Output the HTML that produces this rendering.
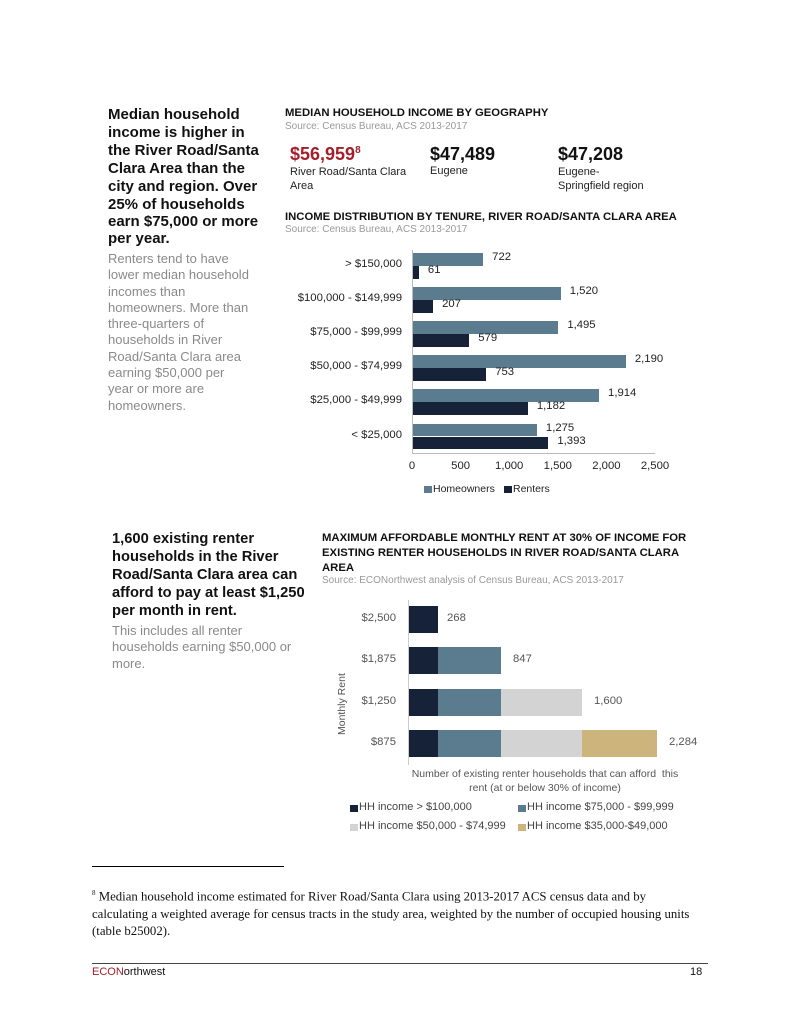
<!DOCTYPE html>
<html><head><meta charset="utf-8"><style>
body{margin:0;width:800px;height:1035px;background:#fff;position:relative;overflow:hidden;font-family:"Liberation Sans",sans-serif;color:#111;}
.a{position:absolute;white-space:nowrap;}
.h{font-weight:bold;font-size:15px;color:#111;}
.g{font-size:13px;color:#8a8a8a;}
.t{font-weight:bold;font-size:11.3px;color:#111;}
.s{font-size:10px;color:#999;}
.l{font-size:11px;color:#222;}
.bar{position:absolute;}
.hm{background:#5b7b8e;}
.rt{background:#152238;}
</style></head><body>
<div class="a h" style="left:108px;top:106px">Median household</div>
<div class="a h" style="left:108px;top:124px">income is higher in</div>
<div class="a h" style="left:108px;top:142px">the River Road/Santa</div>
<div class="a h" style="left:108px;top:160px">Clara Area than the</div>
<div class="a h" style="left:108px;top:178px">city and region. Over</div>
<div class="a h" style="left:108px;top:196px">25% of households</div>
<div class="a h" style="left:108px;top:213px">earn $75,000 or more</div>
<div class="a h" style="left:108px;top:230px">per year.</div>
<div class="a g" style="left:108px;top:251px;line-height:16.3px">Renters tend to have<br>lower median household<br>incomes than<br>homeowners. More than<br>three-quarters of<br>households in River<br>Road/Santa Clara area<br>earning $50,000 per<br>year or more are<br>homeowners.</div>

<div class="a t" style="left:285px;top:107px">MEDIAN HOUSEHOLD INCOME BY GEOGRAPHY</div>
<div class="a s" style="left:285px;top:121px">Source: Census Bureau, ACS 2013-2017</div>
<div class="a" style="left:290px;top:144px;font-size:18px;font-weight:bold;color:#a3202b">$56,959<sup style="font-size:10px">8</sup></div>
<div class="a" style="left:430px;top:144px;font-size:18px;font-weight:bold">$47,489</div>
<div class="a" style="left:558px;top:144px;font-size:18px;font-weight:bold">$47,208</div>
<div class="a l" style="left:290px;top:165px;line-height:14px">River Road/Santa Clara<br>Area</div>
<div class="a l" style="left:430px;top:165px">Eugene</div>
<div class="a l" style="left:558px;top:165px;line-height:14px">Eugene-<br>Springfield region</div>

<div class="a t" style="left:285px;top:211px">INCOME DISTRIBUTION BY TENURE, RIVER ROAD/SANTA CLARA AREA</div>
<div class="a s" style="left:285px;top:224px">Source: Census Bureau, ACS 2013-2017</div>

<div class="a" style="left:412px;top:250px;width:1px;height:203px;background:#bbb"></div>
<div class="a" style="left:412px;top:453px;width:243px;height:1px;background:#bbb"></div>
<div id="c1"></div>
<div class="a" style="left:424px;top:486px;width:8px;height:7px;background:#5b7b8e"></div>
<div class="a l" style="left:433px;top:483px;font-size:10.5px">Homeowners</div>
<div class="a" style="left:504px;top:486px;width:8px;height:7px;background:#152238"></div>
<div class="a l" style="left:513px;top:483px;font-size:10.5px">Renters</div>

<div class="a h" style="left:112px;top:530px;line-height:18px;font-size:14.7px">1,600 existing renter<br>households in the River<br>Road/Santa Clara area can<br>afford to pay at least $1,250<br>per month in rent.</div>
<div class="a g" style="left:112px;top:623px;line-height:16.3px">This includes all renter<br>households earning $50,000 or<br>more.</div>

<div class="a t" style="left:322px;top:531px;line-height:15px">MAXIMUM AFFORDABLE MONTHLY RENT AT 30% OF INCOME FOR<br>EXISTING RENTER HOUSEHOLDS IN RIVER ROAD/SANTA CLARA<br>AREA</div>
<div class="a s" style="left:322px;top:575px">Source: ECONorthwest analysis of Census Bureau, ACS 2013-2017</div>

<div class="a" style="left:408px;top:600px;width:1px;height:165px;background:#ccc"></div>
<div id="c2"></div>
<div class="a l" style="left:336px;font-size:10.5px;color:#555;transform:rotate(-90deg);transform-origin:0 0;top:735px">Monthly Rent</div>
<div class="a l" style="left:400px;top:767px;font-size:10.5px;color:#555;text-align:center;width:290px;line-height:14px">Number of existing renter households that can afford&nbsp; this<br>rent (at or below 30% of income)</div>
<div class="a" style="left:350px;top:805px;width:8px;height:7px;background:#152238"></div>
<div class="a l" style="left:359px;top:801px;font-size:11px;color:#444">HH income &gt; $100,000</div>
<div class="a" style="left:518px;top:805px;width:8px;height:7px;background:#5b7b8e"></div>
<div class="a l" style="left:527px;top:801px;font-size:11px;color:#444">HH income $75,000 - $99,999</div>
<div class="a" style="left:350px;top:824px;width:8px;height:7px;background:#d3d3d3"></div>
<div class="a l" style="left:359px;top:820px;font-size:11px;color:#444">HH income $50,000 - $74,999</div>
<div class="a" style="left:518px;top:824px;width:8px;height:7px;background:#cdb47c"></div>
<div class="a l" style="left:527px;top:820px;font-size:11px;color:#444">HH income $35,000-$49,000</div>

<div class="a" style="left:92px;top:866px;width:192px;height:1px;background:#000"></div>
<div class="a" style="left:92px;top:885px;font-family:'Liberation Serif',serif;font-size:12.8px;line-height:17.5px"><sup style="font-size:7px">8</sup> Median household income estimated for River Road/Santa Clara using 2013-2017 ACS census data and by<br>calculating a weighted average for census tracts in the study area, weighted by the number of occupied housing units<br>(table b25002).</div>
<div class="a" style="left:92px;top:963px;width:616px;height:1px;background:#444"></div>
<div class="a" style="left:92px;top:966px;font-size:11px"><span style="color:#a3202b">ECON</span>orthwest</div>
<div class="a" style="left:690px;top:966px;font-size:11px">18</div>

<script>
var c1='';var cats=['> $150,000','$100,000 - $149,999','$75,000 - $99,999','$50,000 - $74,999','$25,000 - $49,999','< $25,000'];
var h=[722,1520,1495,2190,1914,1275],r=[61,207,579,753,1182,1393];
function f(n){return n.toLocaleString('en-US');}
for(var i=0;i<6;i++){var y=253+i*34.1;var wh=h[i]*0.0972,wr=r[i]*0.0972;
c1+='<div class="a l" style="right:'+(800-402)+'px;top:'+(y+5)+'px;font-size:11.3px">'+cats[i].replace('<','&lt;').replace('>','&gt;')+'</div>';
c1+='<div class="bar hm" style="left:413px;top:'+y+'px;width:'+wh+'px;height:12.5px"></div>';
c1+='<div class="bar rt" style="left:413px;top:'+(y+13)+'px;width:'+wr+'px;height:12.5px"></div>';
c1+='<div class="a l" style="left:'+(422+wh)+'px;top:'+(y-2)+'px;font-size:11.3px">'+f(h[i])+'</div>';
c1+='<div class="a l" style="left:'+(422+wr)+'px;top:'+(y+11)+'px;font-size:11.3px">'+f(r[i])+'</div>';}
for(var k=0;k<=5;k++){var x=412+k*48.6;c1+='<div class="a l" style="left:'+(x-20)+'px;width:40px;text-align:center;top:460px;font-size:11.3px">'+f(k*500)+'</div>';}
document.getElementById('c1').innerHTML=c1;
var c2='';var rl=['$2,500','$1,875','$1,250','$875'],tops=[606,647,689,730],ends=[438,501,582,657],lab=['268','847','1,600','2,284'];
var segs=[[409,438,'#152238'],[438,501,'#5b7b8e'],[501,582,'#d3d3d3'],[582,657,'#cdb47c']];
for(var i=0;i<4;i++){var y=tops[i];
c2+='<div class="a l" style="right:'+(800-396)+'px;top:'+(y+6)+'px;font-size:11.3px;color:#555">'+rl[i]+'</div>';
for(var j=0;j<=i;j++){c2+='<div class="bar" style="left:'+segs[j][0]+'px;width:'+(segs[j][1]-segs[j][0])+'px;top:'+y+'px;height:27px;background:'+segs[j][2]+'"></div>';}
c2+='<div class="a l" style="left:'+(ends[i]+ (i==0?9:12))+'px;top:'+(y+6)+'px;font-size:11.3px;color:#555">'+lab[i]+'</div>';}
document.getElementById('c2').innerHTML=c2;
</script>
</body></html>
